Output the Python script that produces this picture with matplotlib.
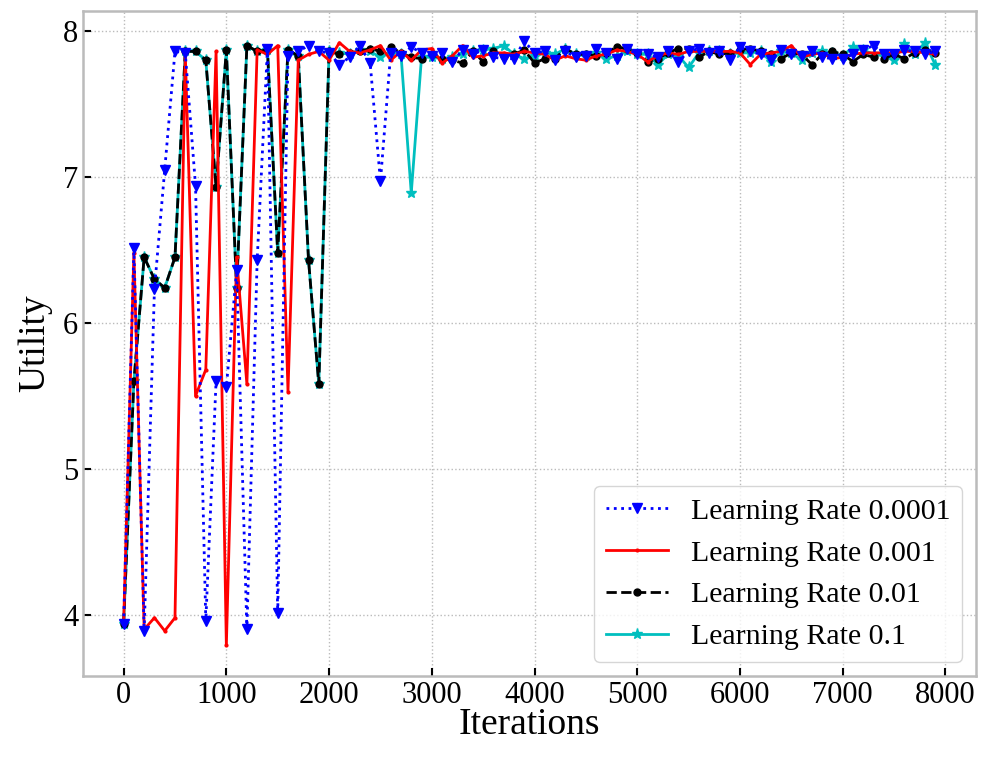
import numpy as np
import matplotlib
matplotlib.use("Agg")
import matplotlib.pyplot as plt

iterations = list(range(0, 8000, 100))

lr_0001 = [3.94, 6.51, 3.89, 6.23, 7.05, 7.86, 7.85, 6.94, 3.96, 5.60,
           5.56, 6.36, 3.90, 6.43, 7.88, 4.01, 7.83, 7.86, 7.90, 7.86,
           7.85, 7.77, 7.82, 7.90, 7.78, 6.97, 7.85, 7.83, 7.89, 7.85,
           7.83, 7.85, 7.79, 7.87, 7.84, 7.87, 7.82, 7.81, 7.81, 7.93,
           7.85, 7.86, 7.80, 7.86, 7.82, 7.83, 7.88, 7.85, 7.81, 7.88,
           7.84, 7.84, 7.82, 7.86, 7.79, 7.86, 7.88, 7.85, 7.86, 7.80,
           7.89, 7.86, 7.84, 7.80, 7.87, 7.84, 7.83, 7.86, 7.82, 7.81,
           7.81, 7.84, 7.87, 7.90, 7.84, 7.84, 7.87, 7.86, 7.84, 7.86]

lr_001 = [3.94, 6.48, 3.90, 3.98, 3.89, 3.98, 7.85, 5.50, 5.68, 7.86,
          3.79, 6.45, 5.58, 7.87, 7.84, 7.90, 5.53, 7.80, 7.84, 7.86,
          7.80, 7.92, 7.86, 7.85, 7.87, 7.90, 7.80, 7.86, 7.80, 7.87,
          7.88, 7.78, 7.83, 7.90, 7.82, 7.83, 7.85, 7.85, 7.84, 7.86,
          7.85, 7.84, 7.80, 7.83, 7.81, 7.80, 7.83, 7.84, 7.87, 7.86,
          7.84, 7.79, 7.83, 7.85, 7.84, 7.86, 7.86, 7.86, 7.86, 7.86,
          7.85, 7.77, 7.84, 7.85, 7.86, 7.90, 7.82, 7.84, 7.85, 7.81,
          7.82, 7.84, 7.85, 7.85, 7.85, 7.85, 7.86, 7.86, 7.85, 7.84]

lr_01 = [3.94, 5.60, 6.45, 6.30, 6.24, 6.45, 7.86, 7.86, 7.80, 6.93,
         7.87, 6.24, 7.90, 7.86, 7.87, 6.48, 7.87, 7.83, 6.43, 5.58,
         7.86, 7.84, 7.85, 7.86, 7.88, 7.86, 7.89, 7.85, 7.82, 7.81,
         7.84, 7.81, 7.80, 7.78, 7.86, 7.79, 7.86, 7.83, 7.84, 7.87,
         7.78, 7.81, 7.81, 7.88, 7.84, 7.84, 7.83, 7.85, 7.89, 7.88,
         7.85, 7.79, 7.81, 7.85, 7.88, 7.88, 7.82, 7.86, 7.84, 7.85,
         7.87, 7.88, 7.86, 7.84, 7.81, 7.85, 7.84, 7.77, 7.84, 7.86,
         7.84, 7.79, 7.84, 7.82, 7.81, 7.84, 7.81, 7.85, 7.87, 7.85]

lr_1 = [3.94, 5.60, 6.45, 6.30, 6.24, 6.45, 7.86, 7.86, 7.80, 6.93,
        7.87, 6.24, 7.90, 7.86, 7.87, 6.48, 7.87, 7.83, 6.43, 5.58,
        7.86, 7.85, 7.84, 7.87, 7.86, 7.82, 7.86, 7.84, 6.89, 7.82,
        7.82, 7.81, 7.82, 7.84, 7.86, 7.87, 7.88, 7.90, 7.84, 7.81,
        7.83, 7.85, 7.84, 7.88, 7.84, 7.83, 7.85, 7.81, 7.83, 7.86,
        7.84, 7.84, 7.77, 7.84, 7.83, 7.75, 7.85, 7.86, 7.86, 7.84,
        7.85, 7.85, 7.86, 7.79, 7.86, 7.85, 7.80, 7.85, 7.86, 7.85,
        7.83, 7.89, 7.87, 7.84, 7.83, 7.80, 7.91, 7.84, 7.92, 7.77]

labels = ["Learning Rate 0.0001", "Learning Rate 0.001",
          "Learning Rate 0.01", "Learning Rate 0.1"]

plt.rcParams['font.family'] = ['Liberation Serif', 'DejaVu Serif']

fig = plt.figure(figsize=(9.91, 7.58), dpi=100)
ax = fig.add_axes([0.0838, 0.1086, 0.9008, 0.8769])

h1, = ax.plot(iterations, lr_0001, color='b', linestyle=':', marker='v',
              markersize=7, linewidth=2, zorder=5, label=labels[0])
h2, = ax.plot(iterations, lr_001, color='r', linestyle='-', marker='.',
              markersize=4, linewidth=2, zorder=4, label=labels[1])
h3, = ax.plot(iterations, lr_01, color='k', linestyle='--', marker='o',
              markersize=5, linewidth=2, zorder=3, label=labels[2])
h4, = ax.plot(iterations, lr_1, color='c', linestyle='-', marker='*',
              markersize=8, linewidth=2, zorder=2, label=labels[3])

ax.set_xticks(range(0, 8001, 1000))
ax.set_yticks([4, 5, 6, 7, 8])
ax.tick_params(axis='both', direction='in', length=6, width=1.5,
               labelsize=22, colors='black')
ax.grid(True, linestyle=':', color='#bbbbbb', linewidth=1)
for s in ax.spines.values():
    s.set_color('#bbbbbb')
    s.set_linewidth(1.8)

ax.set_xlabel("Iterations", fontsize=27, labelpad=-1.5)
ax.set_ylabel("Utility", fontsize=27, labelpad=8)

leg = ax.legend(handles=[h1, h2, h3, h4], loc='lower right', fontsize=21.5,
                frameon=True, fancybox=True, borderaxespad=0.45,
                labelspacing=0.5, handletextpad=0.75, numpoints=1,
                handlelength=2.1)
leg.get_frame().set_edgecolor('#cccccc')

fig.savefig("out.png", dpi=100)
